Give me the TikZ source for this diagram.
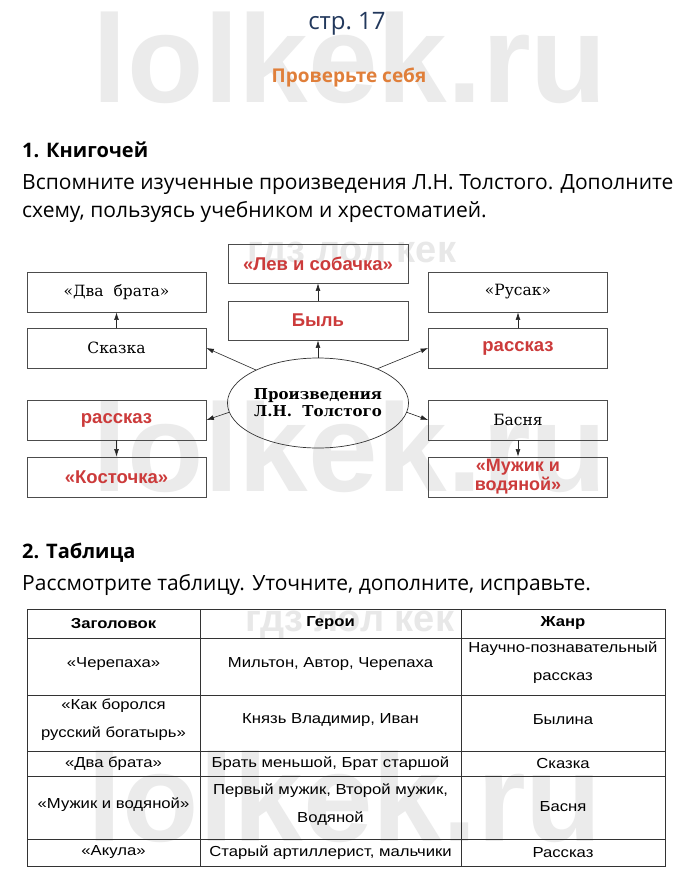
\documentclass[tikz,border=0pt]{standalone}
\usepackage{fontspec}
\setmainfont{DejaVu Serif}
\newfontfamily\handf{Open Sans}
\newfontfamily\arialf{Liberation Sans}
\newfontfamily\tabf[FakeStretch=1.15]{Liberation Sans}
\usetikzlibrary{arrows.meta,shapes.geometric}
\definecolor{redtxt}{HTML}{CC3B3B}
\definecolor{navy}{HTML}{22385C}
\definecolor{orng}{HTML}{E07F3A}
\definecolor{wmtext}{HTML}{EBEBEB}
\definecolor{wmgdz}{HTML}{E8E8E8}
\begin{document}
\begin{tikzpicture}[x=1pt,y=-1pt,
  bx/.style={draw=black!70, line width=0.75pt, minimum width=179pt, minimum height=40pt, inner sep=1pt, align=center},
  bk/.style={font=\fontsize{15.5}{18}\selectfont},
  rd/.style={text=redtxt, font=\arialf\bfseries\fontsize{18.5}{20}\selectfont},
  arr/.style={-{Latex[length=7.5pt,width=4.8pt]}, line width=0.6pt, draw=black!85},
  tbl/.style={draw=black!80, line width=0.8pt},
  tc/.style={font=\tabf\fontsize{14.5}{28}\selectfont, align=center, inner sep=0},
  th/.style={font=\tabf\bfseries\fontsize{14.5}{18}\selectfont, inner sep=0},
  wm/.style={text=wmtext, font=\arialf\bfseries\fontsize{125}{125}\selectfont},
  gdz/.style={text=wmgdz, font=\arialf\bfseries\fontsize{38}{38}\selectfont},
  hand/.style={anchor=base west, inner sep=0, font=\handf\fontsize{21}{21}\selectfont}]
\useasboundingbox (0,0) rectangle (700,884);
\fill[white] (0,0) rectangle (700,884);
% watermarks
\node[wm] (w1) at (350,58) {lolkek.ru};
\node[wm] (w2) at (350,447) {lolkek.ru};
\node[wm] (w3) at (345,797) {lolkek.ru};
\node[gdz] (g1) at (352,256) {гдз лол кек};
\node[gdz] (g2) at (350,625) {гдз лол кек};
% header
\node[anchor=base, inner sep=0, text=navy, font=\handf\fontsize{24}{24}\selectfont] (pg) at (347,29) {стр.\ 17};
\node[anchor=base, inner sep=0, text=orng, font=\handf\bfseries\fontsize{19}{19}\selectfont] (chk) at (349,82) {Проверьте себя};
\node[hand, font=\handf\bfseries\fontsize{20}{20}\selectfont] (h1) at (22,157) {1. Книгочей};
\node[hand] (t1a) at (22,189) {Вспомните изученные произведения Л.Н. Толстого. Дополните};
\node[hand] (t1b) at (22,217) {схему, пользуясь учебником и хрестоматией.};
\node[hand, font=\handf\bfseries\fontsize{20}{20}\selectfont] (h2) at (22,558) {2. Таблица};
\node[hand] (t2) at (22,590) {Рассмотрите таблицу. Уточните, дополните, исправьте.};
% diagram
\node[bx,bk] (dva) at (116.5,292) {«Два\ \ брата»};
\node[bx,bk] (skazka) at (116.5,348) {Сказка};
\node[bx,rd] (rasL) at (116.5,420) {рассказ};
\node[bx,rd] (kost) at (116.5,477) {«Косточка»};
\node[bx,rd,minimum width=180pt,minimum height=39pt] (lev) at (318,263.5) {«Лев и собачка»};
\node[bx,rd,minimum width=180pt,minimum height=39pt] (byl) at (318,320.5) {Быль};
\node[bx,bk] (rusak) at (518,292) {«Русак»};
\node[bx,rd] (rasR) at (518,348) {рассказ};
\node[bx,bk] (basnya) at (518,420) {Басня};
\node[bx,rd,font=\arialf\bfseries\fontsize{18}{19}\selectfont] (muzh) at (518,477) {«Мужик и\\водяной»};
\node[ellipse, draw=black!80, line width=0.7pt, minimum width=154pt, minimum height=90pt, inner sep=0, align=center, font=\bfseries\fontsize{15}{17}\selectfont] (ell) at (318,403) {Произведения\\Л.Н.\ \ Толстого};
\draw[arr] (skazka) -- (dva);
\draw[arr] (rasL) -- (kost);
\draw[arr] (ell) -- (byl);
\draw[arr] (byl) -- (lev);
\draw[arr] (rasR) -- (rusak);
\draw[arr] (basnya) -- (muzh);
\draw[arr] (ell.152) -- (skazka.east);
\draw[arr] (ell.186) -- (rasL.east);
\draw[arr] (ell.30) -- (rasR.west);
\draw[arr] (ell.-6) -- (basnya.west);
% table
\draw[tbl] (27,609) rectangle (665,866);
\draw[tbl] (200,609) -- (200,866);
\draw[tbl] (461,609) -- (461,866);
\foreach \yy in {638,695,751,776,839} \draw[tbl] (27,\yy) -- (665,\yy);
\node[th] (h11) at (113.5,623.5) {Заголовок};
\node[th] (h12) at (330.5,623.5) {Герои};
\node[th] (h13) at (563,623.5) {Жанр};
\node[tc] (c11) at (113.5,664) {«Черепаха»};
\node[tc] (c12) at (330.5,664) {Мильтон, Автор, Черепаха};
\node[tc] (c13) at (563,663) {Научно-познавательный\\рассказ};
\node[tc] (c21) at (113.5,720) {«Как боролся\\русский богатырь»};
\node[tc] (c22) at (330.5,720) {Князь Владимир, Иван};
\node[tc] (c23) at (563,720) {Былина};
\node[tc] (c31) at (113.5,763.5) {«Два брата»};
\node[tc] (c32) at (330.5,763.5) {Брать меньшой, Брат старшой};
\node[tc] (c33) at (563,763.5) {Сказка};
\node[tc] (c41) at (113.5,805) {«Мужик и водяной»};
\node[tc] (c42) at (330.5,805) {Первый мужик, Второй мужик,\\Водяной};
\node[tc] (c43) at (563,807) {Басня};
\node[tc] (c51) at (113.5,852.5) {«Акула»};
\node[tc] (c52) at (330.5,852.5) {Старый артиллерист, мальчики};
\node[tc] (c53) at (563,852.5) {Рассказ};
\end{tikzpicture}
\end{document}
